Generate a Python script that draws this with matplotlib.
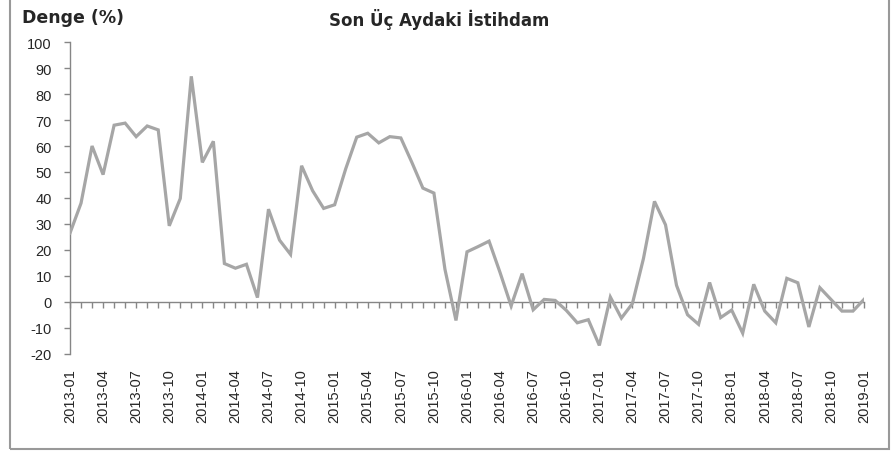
import matplotlib

matplotlib.use("Agg")
import matplotlib.pyplot as plt
from matplotlib.patches import Rectangle

# monthly balance (%), 2013-01 .. 2019-01
months = [f"{y}-{m:02d}" for y in range(2013, 2020) for m in range(1, 13)][:73]
denge = [
    26.5, 38.0, 60.0, 49.0, 68.0, 68.8, 63.6, 67.7, 66.2, 29.3, 39.8, 86.8,
    53.7, 61.8, 14.8, 13.0, 14.5, 1.7, 35.7, 23.8, 18.3, 52.4, 42.8, 36.0,
    37.4, 51.2, 63.4, 64.9, 61.2, 63.6, 63.1, 53.7, 43.8, 41.9, 12.6, -7.1,
    19.3, 21.3, 23.4, 11.3, -1.5, 10.9, -3.0, 1.0, 0.6, -3.2, -8.0, -6.8,
    -16.7, 1.9, -6.2, -0.6, 16.7, 38.7, 29.7, 6.4, -4.9, -8.6, 7.5, -6.0,
    -3.1, -12.0, 6.8, -3.5, -8.0, 9.1, 7.4, -9.6, 5.5, 1.0, -3.5, -3.5, 1.0,
]
yticks = list(range(-20, 101, 10))

LINE = "#a6a6a6"
AXIS = "#868686"
TXT = "#262626"

fig = plt.figure(figsize=(8.96, 4.52), dpi=100)
fig.patches.append(Rectangle((10 / 896, 2 / 452), 879 / 896, 1.0, transform=fig.transFigure,
                             fill=False, edgecolor="#999999", linewidth=1.5, zorder=0))

ax = fig.add_axes([70 / 896, (452 - 355) / 452, 794 / 896, 312 / 452])
x = list(range(len(denge)))
ax.plot(x, denge, color=LINE, linewidth=2.3, solid_joinstyle="miter", zorder=3)

ax.set_xlim(0, len(denge) - 1)
ax.set_ylim(-20, 100)
ax.set_yticks(yticks)
ax.set_yticklabels([str(v) for v in yticks], fontsize=10.5, color=TXT, family="Liberation Sans")
ax.tick_params(axis="y", direction="out", length=4, width=1, color=AXIS, pad=9)

lab_idx = list(range(0, len(months), 3))
ax.set_xticks(lab_idx)
ax.set_xticklabels([months[i] for i in lab_idx], rotation=90, fontsize=10.5, color=TXT,
                   family="Liberation Sans")
ax.tick_params(axis="x", length=0, pad=10)

for s in ["top", "right", "bottom"]:
    ax.spines[s].set_visible(False)
ax.spines["left"].set_color(AXIS)
ax.spines["left"].set_linewidth(1)

# category axis crossing at zero, one tick per month
zero = ax.secondary_xaxis(20 / 120)
zero.set_xticks(x)
zero.set_xticklabels([])
zero.tick_params(direction="out", length=4, width=1, color=AXIS)
zero.spines["bottom"].set_color(AXIS)
zero.spines["bottom"].set_linewidth(1)

fig.text(22 / 896, 1 - 18 / 452, "Denge (%)", fontsize=12.5, fontweight="bold", color=TXT,
         va="center", ha="left")
fig.text(439 / 896, 1 - 20 / 452, "Son Üç Aydaki İstihdam", fontsize=12, fontweight="bold",
         color=TXT, va="center", ha="center")

fig.savefig("out.png", dpi=100)
